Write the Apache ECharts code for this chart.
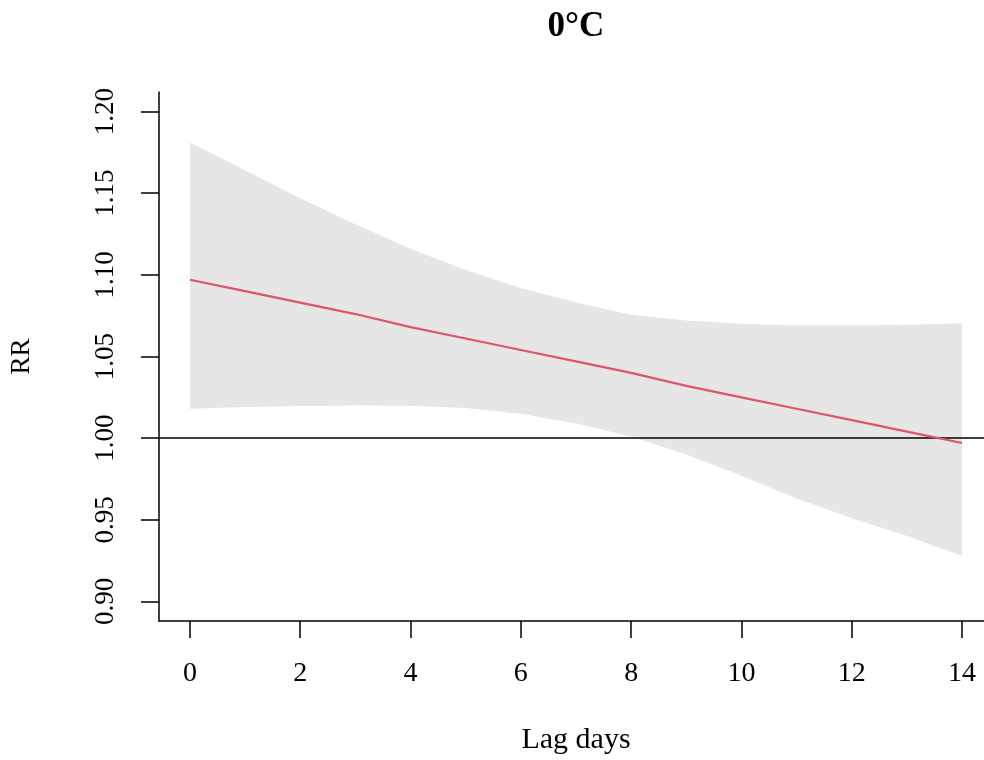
<!DOCTYPE html>
<html>
<head>
<meta charset="utf-8">
<title>0°C lag-response</title>
<script src="https://cdn.jsdelivr.net/npm/echarts@6/dist/echarts.min.js"></script>
<style>
  html, body { margin: 0; padding: 0; background: #ffffff; }
  #chart { width: 984px; height: 760px; }
</style>
</head>
<body>
<div id="chart"></div>
<script>
// Lag (days) and relative risk with its 95% confidence band
const lags = [0, 1, 2, 3, 4, 5, 6, 7, 8, 9, 10, 11, 12, 13, 14];
const rr = [1.097, 1.090, 1.083, 1.076, 1.068, 1.061, 1.054, 1.047, 1.040, 1.032, 1.025, 1.018, 1.011, 1.004, 0.997];
const rrHigh = [1.181, 1.164, 1.147, 1.131, 1.116, 1.103, 1.092, 1.083, 1.0755, 1.072, 1.070, 1.069, 1.069, 1.0695, 1.0703];
const rrLow = [1.018, 1.019, 1.0197, 1.020, 1.0199, 1.0185, 1.015, 1.009, 1.001, 0.990, 0.977, 0.963, 0.951, 0.940, 0.928];

// Axis ticks
const xTicks = [0, 2, 4, 6, 8, 10, 12, 14];
const yTicks = [0.90, 0.95, 1.00, 1.05, 1.10, 1.15, 1.20];
const refValue = 1.0;

const serif = '"Liberation Serif", "Times New Roman", serif';

const chart = echarts.init(document.getElementById('chart'), null, { renderer: 'canvas' });

const rrPts = lags.map((x, i) => [x, rr[i]]);

// Confidence band: polygon along the upper bound, back along the lower bound
function renderBand(params, api) {
  const pts = [];
  for (let i = 0; i < lags.length; i++) pts.push(api.coord([lags[i], rrHigh[i]]));
  for (let i = lags.length - 1; i >= 0; i--) pts.push(api.coord([lags[i], rrLow[i]]));
  return {
    type: 'polygon',
    shape: { points: pts },
    style: { fill: '#e6e6e6', stroke: null }
  };
}

chart.setOption({
  animation: false,
  backgroundColor: '#ffffff',
  graphic: [{
    type: 'text',
    x: 576,
    y: 27,
    style: {
      text: '0°C',
      font: 'bold 35px ' + serif,
      fill: '#000000',
      textAlign: 'center',
      textVerticalAlign: 'middle'
    }
  }],
  grid: {
    left: 159,
    top: 92,
    width: 834,
    height: 529,
    outerBoundsMode: 'none',
    containLabel: false
  },
  xAxis: {
    type: 'value',
    min: -0.56,
    max: 14.56,
    name: 'Lag days',
    nameLocation: 'middle',
    nameGap: 104,
    nameTextStyle: { fontFamily: serif, fontSize: 30, color: '#000000' },
    axisLine: { show: true, onZero: false, lineStyle: { color: '#000000', width: 1.5 } },
    axisTick: { show: true, length: 17, inside: false, customValues: xTicks, lineStyle: { color: '#000000', width: 1.5 } },
    axisLabel: { customValues: xTicks, margin: 39, fontFamily: serif, fontSize: 28, color: '#000000' },
    splitLine: { show: false }
  },
  yAxis: {
    type: 'value',
    min: 0.888,
    max: 1.212,
    name: 'RR',
    nameLocation: 'middle',
    nameGap: 124,
    nameRotate: 90,
    nameTextStyle: { fontFamily: serif, fontSize: 27, color: '#000000' },
    axisLine: { show: true, onZero: false, lineStyle: { color: '#000000', width: 1.5 } },
    axisTick: { show: true, length: 18, inside: false, customValues: yTicks, lineStyle: { color: '#000000', width: 1.5 } },
    axisLabel: {
      customValues: yTicks,
      rotate: 90,
      margin: 40,
      fontFamily: serif,
      fontSize: 27,
      color: '#000000',
      formatter: v => v.toFixed(2)
    },
    splitLine: { show: false }
  },
  series: [
    {
      name: 'band',
      type: 'custom',
      renderItem: renderBand,
      data: [0],
      silent: true,
      clip: true,
      z: 1
    },
    {
      name: 'RR',
      type: 'line',
      data: rrPts,
      symbol: 'none',
      silent: true,
      lineStyle: { color: '#df536b', width: 2.2 },
      z: 3,
      markLine: {
        silent: true,
        symbol: 'none',
        label: { show: false },
        lineStyle: { color: '#000000', width: 1.5, type: 'solid' },
        data: [{ yAxis: refValue }],
        z: 2
      }
    }
  ]
});
</script>
</body>
</html>
